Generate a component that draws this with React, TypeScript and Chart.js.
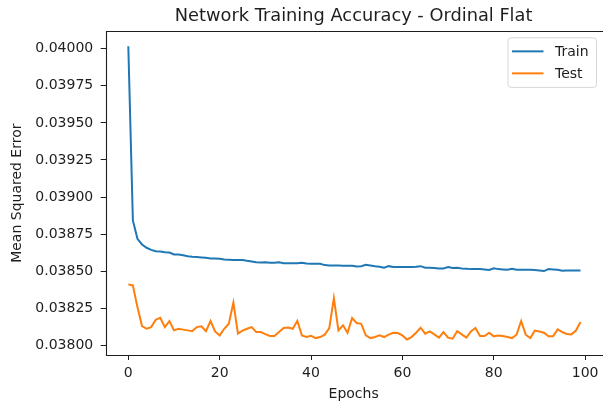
import React, { useEffect, useRef } from 'react';
import { Chart, registerables } from 'chart.js';
Chart.register(...registerables);

const chartTitle = 'Network Training Accuracy - Ordinal Flat';
const xLabel = 'Epochs';
const yLabel = 'Mean Squared Error';
const seriesNames = ['Train', 'Test'];

const trainMSE = [
  0.040017, 0.038842, 0.038718, 0.03868, 0.038658, 0.038644, 0.038635, 0.038633, 0.038628, 0.038626,
  0.038613, 0.038613, 0.038608, 0.038601, 0.038597, 0.038595, 0.038593, 0.03859, 0.038586, 0.038586,
  0.038584, 0.038579, 0.038577, 0.038575, 0.038575, 0.038575, 0.03857, 0.038566, 0.038561, 0.038559,
  0.038561, 0.038557, 0.038557, 0.038561, 0.038554, 0.038554, 0.038554, 0.038554, 0.038557, 0.038552,
  0.03855, 0.03855, 0.03855, 0.038541, 0.038539, 0.038539, 0.038539, 0.038537, 0.038537, 0.038537,
  0.038532, 0.038534, 0.038543, 0.038539, 0.038534, 0.03853, 0.038523, 0.038534, 0.038528, 0.038528,
  0.038528, 0.038528, 0.038528, 0.03853, 0.038534, 0.038523, 0.038523, 0.038521, 0.038519, 0.038519,
  0.038528, 0.038521, 0.038523, 0.038519, 0.038517, 0.038514, 0.038514, 0.038514, 0.038512, 0.038508,
  0.038519, 0.038514, 0.038512, 0.03851, 0.038517, 0.03851, 0.03851, 0.03851, 0.03851, 0.038508,
  0.038505, 0.038501, 0.038514, 0.038512, 0.03851, 0.038503, 0.038505, 0.038505, 0.038505, 0.038505,
];

const testMSE = [
  0.038411, 0.038404, 0.038258, 0.03813, 0.038112, 0.038123, 0.038173, 0.038186, 0.038123, 0.038164,
  0.038101, 0.038112, 0.038106, 0.038101, 0.038096, 0.038123, 0.038128, 0.038096, 0.038164, 0.038094,
  0.038067, 0.038112, 0.038146, 0.038288, 0.038079, 0.038099, 0.038112, 0.038123, 0.03809, 0.03809,
  0.038076, 0.038063, 0.038063, 0.03809, 0.038117, 0.03812, 0.038112, 0.038164, 0.038067, 0.038056,
  0.038065, 0.038049, 0.038056, 0.038072, 0.038117, 0.038319, 0.038101, 0.038135, 0.038085, 0.038184,
  0.03815, 0.038145, 0.038067, 0.038049, 0.038056, 0.038067, 0.038056, 0.038072, 0.038085, 0.038083,
  0.038067, 0.03804, 0.038056, 0.038085, 0.038119, 0.038079, 0.038094, 0.038074, 0.038052, 0.03809,
  0.038052, 0.038045, 0.038096, 0.038074, 0.038052, 0.038094, 0.038117, 0.038063, 0.038063, 0.038085,
  0.038061, 0.038067, 0.038063, 0.038056, 0.038049, 0.038072, 0.038164, 0.038072, 0.038049, 0.0381,
  0.038094, 0.038085, 0.038061, 0.038061, 0.038108, 0.03809, 0.038076, 0.038074, 0.0381, 0.038157,
];

const yTickValues = [0.038, 0.03825, 0.0385, 0.03875, 0.039, 0.03925, 0.0395, 0.03975, 0.04];
const xTickValues = [0, 20, 40, 60, 80, 100];

const FONT = "'DejaVu Sans', 'Liberation Sans', sans-serif";
const TEXT = '#1e1e1e';

export default function App() {
  const ref = useRef<HTMLCanvasElement>(null);

  useEffect(() => {
    document.body.style.margin = '0';
    const canvas = ref.current!;

    const framePlugin = {
      id: 'frame',
      afterDatasetsDraw(chart: any) {
        const { ctx, chartArea: a, width } = chart;
        const l = Math.round(a.left) + 0.5;
        const t = Math.round(a.top) + 0.5;
        const b = Math.round(a.bottom) + 0.5;
        ctx.save();
        ctx.strokeStyle = TEXT;
        ctx.lineWidth = 1.1;
        ctx.beginPath();
        ctx.moveTo(width + 2, t);
        ctx.lineTo(l, t);
        ctx.lineTo(l, b);
        ctx.lineTo(width + 2, b);
        ctx.stroke();
        ctx.restore();
      },
    };

    const legendPlugin = {
      id: 'mplLegend',
      afterDraw(chart: any) {
        const { ctx, chartArea: a } = chart;
        const w = 88.5, h = 49.5;
        const right = 596.5;
        const left = right - w;
        const top = a.top + 6.5;
        ctx.save();
        ctx.beginPath();
        const r = 3;
        ctx.moveTo(left + r, top);
        ctx.lineTo(left + w - r, top);
        ctx.arcTo(left + w, top, left + w, top + r, r);
        ctx.lineTo(left + w, top + h - r);
        ctx.arcTo(left + w, top + h, left + w - r, top + h, r);
        ctx.lineTo(left + r, top + h);
        ctx.arcTo(left, top + h, left, top + h - r, r);
        ctx.lineTo(left, top + r);
        ctx.arcTo(left, top, left + r, top, r);
        ctx.closePath();
        ctx.fillStyle = 'rgba(255,255,255,0.8)';
        ctx.fill();
        ctx.strokeStyle = '#d6d6d6';
        ctx.lineWidth = 1;
        ctx.stroke();
        chart.data.datasets.forEach((ds: any, i: number) => {
          const y = top + 13.5 + i * 22;
          ctx.beginPath();
          ctx.strokeStyle = ds.borderColor;
          ctx.lineWidth = 2;
          ctx.moveTo(left + 4, y);
          ctx.lineTo(left + 35.5, y);
          ctx.stroke();
          ctx.fillStyle = TEXT;
          ctx.font = `14px ${FONT}`;
          ctx.textBaseline = 'middle';
          ctx.textAlign = 'left';
          ctx.fillText(ds.label, left + 47, y + 0.5);
        });
        ctx.restore();
      },
    };

    const chart = new Chart(canvas, {
      type: 'line',
      data: {
        datasets: [
          {
            label: seriesNames[0],
            data: trainMSE.map((v, i) => ({ x: i, y: v })),
            borderColor: '#1f77b4',
            borderWidth: 2,
            pointRadius: 0,
            tension: 0,
            fill: false,
          },
          {
            label: seriesNames[1],
            data: testMSE.map((v, i) => ({ x: i, y: v })),
            borderColor: '#ff7f0e',
            borderWidth: 2,
            pointRadius: 0,
            tension: 0,
            fill: false,
          },
        ],
      },
      options: {
        animation: false,
        responsive: false,
        devicePixelRatio: 1,
        layout: { padding: 0 },
        plugins: {
          legend: { display: false },
          tooltip: { enabled: false },
          title: {
            display: true,
            text: chartTitle,
            fullSize: false,
            color: TEXT,
            font: { family: FONT, size: 17.8, weight: 'normal' },
            padding: { top: 6, bottom: 4 },
          },
        },
        scales: {
          x: {
            type: 'linear',
            min: -4.95,
            max: 103.6,
            afterFit: (s: any) => { s.height = 55; },
            afterBuildTicks: (s: any) => { s.ticks = xTickValues.map((v) => ({ value: v })); },
            border: { display: false },
            grid: { display: true, drawOnChartArea: false, drawTicks: true, tickLength: 5, color: TEXT, tickWidth: 1 },
            ticks: {
              color: TEXT,
              padding: 4.5,
              maxRotation: 0,
              font: { family: FONT, size: 14 },
              callback: (v: any) => String(v),
            },
            title: {
              display: true,
              text: xLabel,
              color: TEXT,
              font: { family: FONT, size: 14 },
              padding: { top: 0, bottom: 7 },
            },
          },
          y: {
            type: 'linear',
            min: 0.037935,
            max: 0.040117,
            afterFit: (s: any) => { s.width = 105.7; },
            afterBuildTicks: (s: any) => { s.ticks = yTickValues.map((v) => ({ value: v })); },
            border: { display: false },
            grid: { display: true, drawOnChartArea: false, drawTicks: true, tickLength: 5, color: TEXT, tickWidth: 1 },
            ticks: {
              color: TEXT,
              padding: 7.5,
              font: { family: FONT, size: 14 },
              callback: (v: any) => Number(v).toFixed(5),
            },
            title: {
              display: true,
              text: yLabel,
              color: TEXT,
              font: { family: FONT, size: 14 },
              padding: { top: 8.6, bottom: 0 },
            },
          },
        },
      },
      plugins: [framePlugin, legendPlugin],
    });

    return () => chart.destroy();
  }, []);

  return <canvas ref={ref} width={603} height={410} style={{ display: 'block', width: 603, height: 410 }} />;
}
